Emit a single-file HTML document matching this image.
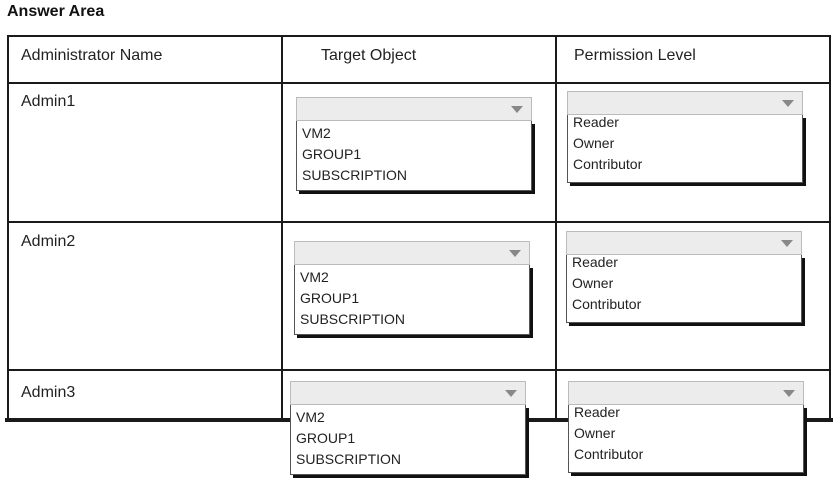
<!DOCTYPE html>
<html><head><style>
body{margin:0;width:840px;height:486px;background:#fff;position:relative;overflow:hidden;font-family:"Liberation Sans",sans-serif;color:#222}
.a{position:absolute}
.h{background:#1a1a1a}
.t{position:absolute;font-size:16px}
.dd{position:absolute;width:236px}
.hd{height:22px;background:#ececec;border:1px solid #bbb;position:relative}
.hd:after{content:"";position:absolute;right:8px;top:8px;border-left:6px solid transparent;border-right:6px solid transparent;border-top:7px solid #888}
.ls{background:#fff;border:1px solid #555;border-top:none;box-shadow:3px 3px 0 #111;font-size:14px;line-height:21px;padding:2px 5px 4px}
.p{padding-top:0;line-height:21px;margin-top:0}
.p span{display:block;position:relative;top:-3px}
</style></head><body>
<div class="a" style="left:7px;top:3px;font-weight:bold;font-size:16px;color:#111">Answer Area</div>
<div class="a h" style="left:7px;top:35px;width:824px;height:2px"></div>
<div class="a h" style="left:7px;top:82px;width:824px;height:2px"></div>
<div class="a h" style="left:7px;top:221px;width:824px;height:2px"></div>
<div class="a h" style="left:7px;top:369px;width:824px;height:2px"></div>
<div class="a h" style="left:5px;top:418px;width:828px;height:4px"></div>
<div class="a h" style="left:7px;top:35px;width:2px;height:385px"></div>
<div class="a h" style="left:281px;top:35px;width:2px;height:385px"></div>
<div class="a h" style="left:555px;top:35px;width:2px;height:385px"></div>
<div class="a h" style="left:829px;top:35px;width:2px;height:385px"></div>
<div class="t" style="left:21px;top:47px">Administrator Name</div>
<div class="t" style="left:321px;top:47px">Target Object</div>
<div class="t" style="left:574px;top:47px">Permission Level</div>
<div class="t" style="left:21px;top:93px">Admin1</div>
<div class="t" style="left:21px;top:233px">Admin2</div>
<div class="t" style="left:21px;top:384px">Admin3</div>

<div class="dd" style="left:296px;top:97px"><div class="hd"></div><div class="ls">VM2<br>GROUP1<br>SUBSCRIPTION</div></div>
<div class="dd" style="left:567px;top:91px"><div class="hd"></div><div class="ls p"><span>Reader<br>Owner<br>Contributor</span></div></div>
<div class="dd" style="left:294px;top:241px"><div class="hd"></div><div class="ls">VM2<br>GROUP1<br>SUBSCRIPTION</div></div>
<div class="dd" style="left:566px;top:231px"><div class="hd"></div><div class="ls p"><span>Reader<br>Owner<br>Contributor</span></div></div>
<div class="dd" style="left:290px;top:381px"><div class="hd"></div><div class="ls">VM2<br>GROUP1<br>SUBSCRIPTION</div></div>
<div class="dd" style="left:568px;top:381px"><div class="hd"></div><div class="ls p"><span>Reader<br>Owner<br>Contributor</span></div></div>
</body></html>
